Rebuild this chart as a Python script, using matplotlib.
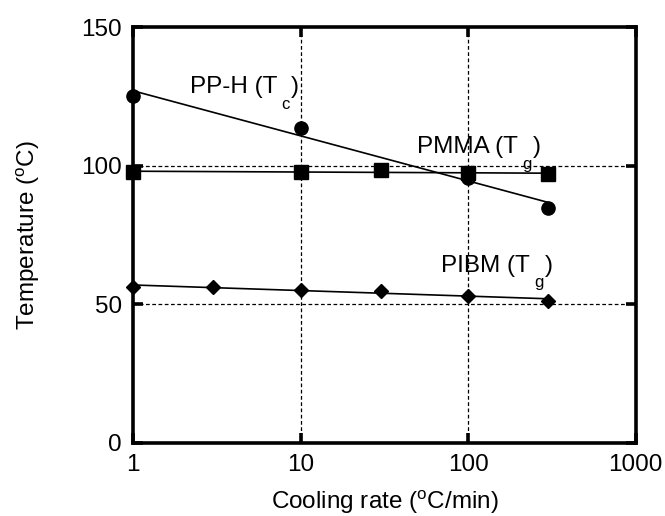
import numpy as np
import matplotlib
matplotlib.use("Agg")
import matplotlib.pyplot as plt

plt.rcParams['font.family'] = ['Liberation Sans', 'DejaVu Sans']
plt.rcParams['mathtext.fontset'] = 'custom'
plt.rcParams['mathtext.rm'] = 'Liberation Sans'
plt.rcParams['mathtext.it'] = 'Liberation Sans'

# PP-H crystallisation temperature
pph_rate = [1, 10, 100, 300]
pph_temp = [125.1, 113.7, 95.5, 84.8]
# PMMA glass transition
pmma_rate = [1, 10, 30, 100, 300]
pmma_temp = [97.8, 97.6, 98.4, 97.3, 97.0]
# PIBM glass transition
pibm_rate = [1, 3, 10, 30, 100, 300]
pibm_temp = [56.3, 56.3, 55.2, 54.8, 53.1, 51.3]

x_ticks = [1, 10, 100, 1000]
y_ticks = [0, 50, 100, 150]

fig = plt.figure(figsize=(6.65, 5.16), dpi=100)
ax = fig.add_axes([0.2, 0.1415, 0.756, 0.806])

def fit_line(rate, temp):
    # straight line in log(rate)
    lx = np.log10(rate)
    b1, b0 = np.polyfit(lx, temp, 1)
    xs = np.array([min(rate), max(rate)], dtype=float)
    return xs, b0 + b1 * np.log10(xs)

for rate, temp, mk, ms in [(pph_rate, pph_temp, 'o', 9.5),
                           (pmma_rate, pmma_temp, 's', 10.5),
                           (pibm_rate, pibm_temp, 'D', 7)]:
    xs, ys = fit_line(rate, temp)
    ax.plot(xs, ys, color='black', lw=1.2, zorder=3)
    ax.plot(rate, temp, linestyle='none', marker=mk, ms=ms, color='black',
            clip_on=False, zorder=4)

ax.set_xscale('log')
ax.set_xlim(1, 1000)
ax.set_ylim(0, 150)
ax.set_xticks(x_ticks)
ax.set_xticklabels([str(v) for v in x_ticks])
ax.set_yticks(y_ticks)
ax.minorticks_off()

for v in [10, 100]:
    ax.axvline(v, color='black', lw=0.9, ls=(0, (3, 2)), zorder=1)
for v in [50, 100]:
    ax.axhline(v, color='black', lw=0.9, ls=(0, (3, 2)), zorder=1)

for s in ax.spines.values():
    s.set_linewidth(2.6)
ax.tick_params(which='both', direction='in', length=7, width=2.6,
               top=True, right=True, labelsize=17.5, pad=8)

# labels with a dropped subscript, as in the original
def label(x, y, main, sub):
    t = ax.text(x, y, main, fontsize=17.5)
    s = ax.annotate(sub, xy=(1, 0), xycoords=t, xytext=(3, 1),
                    textcoords='offset points', fontsize=12,
                    ha='left', va='top')
    ax.annotate(')', xy=(1, 0), xycoords=(s, t), xytext=(1, 0),
                textcoords='offset points', fontsize=17.5,
                ha='left', va='bottom')

label(2.18, 126.2, 'PP-H (T', 'c')
label(49.7, 104.6, 'PMMA (T', 'g')
label(68.7, 61.8, 'PIBM (T', 'g')

ax.set_xlabel(r'Cooling rate ($^{\mathrm{o}}$C/min)', fontsize=17.5, labelpad=9)
ax.set_ylabel(r'Temperature ($^{\mathrm{o}}$C)', fontsize=17.5, labelpad=28)

fig.savefig('out.png', dpi=100)
